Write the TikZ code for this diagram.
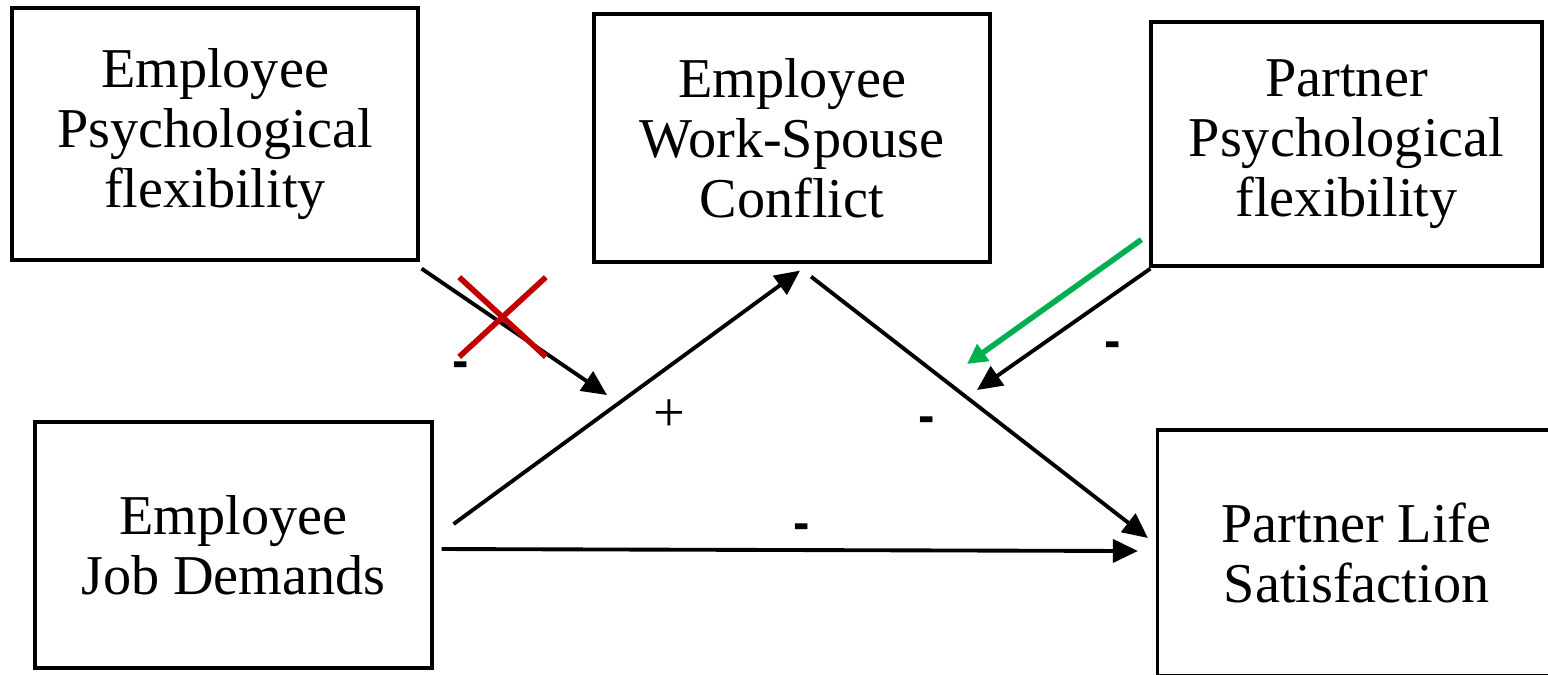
\documentclass[tikz,border=0pt]{standalone}
\usepackage{fontspec}
\setmainfont{Liberation Serif}
\setsansfont{Liberation Sans}
\usetikzlibrary{arrows.meta, shapes.misc, calc}
\definecolor{markred}{RGB}{192,0,0}
\definecolor{markgreen}{RGB}{0,176,80}
\tikzset{
    >=Latex,
    path_box/.style={
        rectangle,
        draw=black,
        line width=0.9pt,
        fill=white,
        inner sep=0pt,
        align=center,
        font=\fontsize{16}{17}\selectfont
    },
    path_arrow/.style={
        -{Triangle[length=0.25cm, width=0.23cm]},
        line width=1.1pt
    },
    path_hint/.style={
        -{Triangle[length=0.2cm, width=0.2cm]},
        draw=markgreen,
        line width=1.6pt
    },
    path_cross/.style={
        cross out,
        draw=markred,
        line width=1.6pt,
        inner sep=0pt,
        minimum width=0.81cm,
        minimum height=0.74cm
    },
    path_sign/.style={
        inner sep=0pt,
        font=\sffamily\bfseries\fontsize{14}{17}\selectfont
    },
    path_plus/.style={
        inner sep=0pt,
        font=\fontsize{16}{17}\selectfont
    }
}

\begin{document}
\begin{tikzpicture}

\clip (0,0) rectangle (15.48,-6.74);

% --- Boxes ---
\node[path_box, minimum width=4.06cm, minimum height=2.52cm] (EmpFlex) at (2.15,-1.34)
  {Employee \\ Psychological \\ flexibility};
\node[path_box, minimum width=3.96cm, minimum height=2.48cm] (Conflict) at (7.92,-1.38)
  {Employee \\ Work-Spouse \\ Conflict};
\node[path_box, minimum width=3.91cm, minimum height=2.44cm] (PartFlex) at (13.465,-1.44)
  {Partner \\ Psychological \\ flexibility};
\node[path_box, minimum width=3.97cm, minimum height=2.46cm] (JobDem) at (2.335,-5.45)
  {Employee \\ Job Demands};
\node[path_box, minimum width=3.98cm, minimum height=2.46cm] (LifeSat) at (13.565,-5.53)
  {Partner Life \\ Satisfaction};

% --- Moderation targets ---
\coordinate (ModTipA) at (6.07,-3.95);
\coordinate (ModTipB) at (9.77,-3.90);
\coordinate (HintTip) at (9.67,-3.64);

% --- Edges: main paths ---
\draw[path_arrow] ([xshift=0.20cm, yshift=0.21cm]JobDem.east) -- ([xshift=0.08cm, yshift=-0.07cm]Conflict.south);
\draw[path_arrow] ([xshift=0.19cm, yshift=-0.13cm]Conflict.south) -- ([xshift=-0.08cm, yshift=0.15cm]LifeSat.west);
\draw[path_arrow] ([xshift=0.08cm, yshift=-0.04cm]JobDem.east) -- ([xshift=-0.18cm, yshift=0.02cm]LifeSat.west);

% --- Edges: moderators ---
\draw[path_arrow] ([xshift=0.02cm, yshift=-0.07cm]EmpFlex.south east) -- (ModTipA);
\draw[path_arrow] ([xshift=0.01cm, yshift=-0.01cm]PartFlex.south west) -- (ModTipB);
\draw[path_hint] ([xshift=-0.08cm, yshift=0.28cm]PartFlex.south west) -- (HintTip);

% --- Marks and signs ---
\node[path_cross] (NoEffect) at (5.025,-3.17) {};
\node[path_sign] (SignModA) at (4.61,-3.70) {-};
\node[path_plus] (SignA) at (6.69,-4.16) {+};
\node[path_sign] (SignB) at (9.27,-4.25) {-};
\node[path_sign] (SignC) at (8.02,-5.32) {-};
\node[path_sign] (SignModB) at (11.13,-3.50) {-};

\end{tikzpicture}
\end{document}
